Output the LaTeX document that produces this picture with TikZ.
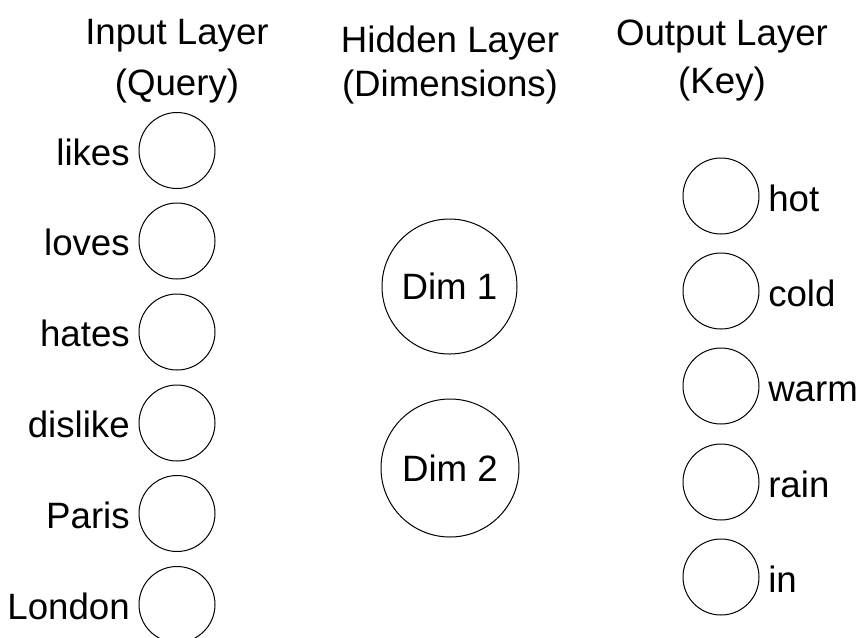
\documentclass[tikz,border=0pt]{standalone}
\usepackage{fontspec}
\setmainfont{Liberation Sans}
\begin{document}
\begin{tikzpicture}[x=0.75pt,y=-0.75pt,
  neuron/.style={draw=black,line width=0.75pt,circle,inner sep=0pt,minimum size=57pt},
  dimneuron/.style={draw=black,line width=0.75pt,circle,inner sep=0pt,font=\fontsize{27.5}{33}\selectfont},
  txt/.style={font=\fontsize{27.5}{33}\selectfont,inner sep=0pt,text=black}]
\useasboundingbox (0,0) rectangle (858,637);
% titles
\node[txt,anchor=base] (t1a) at (177,44) {Input Layer};
\node[txt,anchor=base] (t1b) at (177,95) {(Query)};
\node[txt,anchor=base] (t2a) at (450,52) {Hidden Layer};
\node[txt,anchor=base] (t2b) at (450,96) {(Dimensions)};
\node[txt,anchor=base] (t3a) at (722,45) {Output Layer};
\node[txt,anchor=base] (t3b) at (722,93) {(Key)};
% input layer
\node[neuron] (i1) at (177,150.5) {};
\node[neuron] (i2) at (177,241) {};
\node[neuron] (i3) at (177,332) {};
\node[neuron] (i4) at (177,423) {};
\node[neuron] (i5) at (177,513.5) {};
\node[neuron] (i6) at (177,604.5) {};
\node[txt,anchor=base east] (li1) at (130,165) {likes};
\node[txt,anchor=base east] (li2) at (130,255.5) {loves};
\node[txt,anchor=base east] (li3) at (130,346.5) {hates};
\node[txt,anchor=base east] (li4) at (130,437.5) {dislike};
\node[txt,anchor=base east] (li5) at (130,528) {Paris};
\node[txt,anchor=base east] (li6) at (130,619) {London};
% hidden layer
\node[dimneuron,minimum size=101.25pt] (h1) at (449.5,286.5) {Dim 1};
\node[dimneuron,minimum size=103.5pt] (h2) at (450,468) {Dim 2};
% output layer
\node[neuron] (o1) at (721,196) {};
\node[neuron] (o2) at (721,291) {};
\node[neuron] (o3) at (721,386) {};
\node[neuron] (o4) at (721,482) {};
\node[neuron] (o5) at (721,577) {};
\node[txt,anchor=base west] (lo1) at (768,211) {hot};
\node[txt,anchor=base west] (lo2) at (768,306) {cold};
\node[txt,anchor=base west] (lo3) at (768,401) {warm};
\node[txt,anchor=base west] (lo4) at (768,497) {rain};
\node[txt,anchor=base west] (lo5) at (768,592) {in};
\end{tikzpicture}
\end{document}
